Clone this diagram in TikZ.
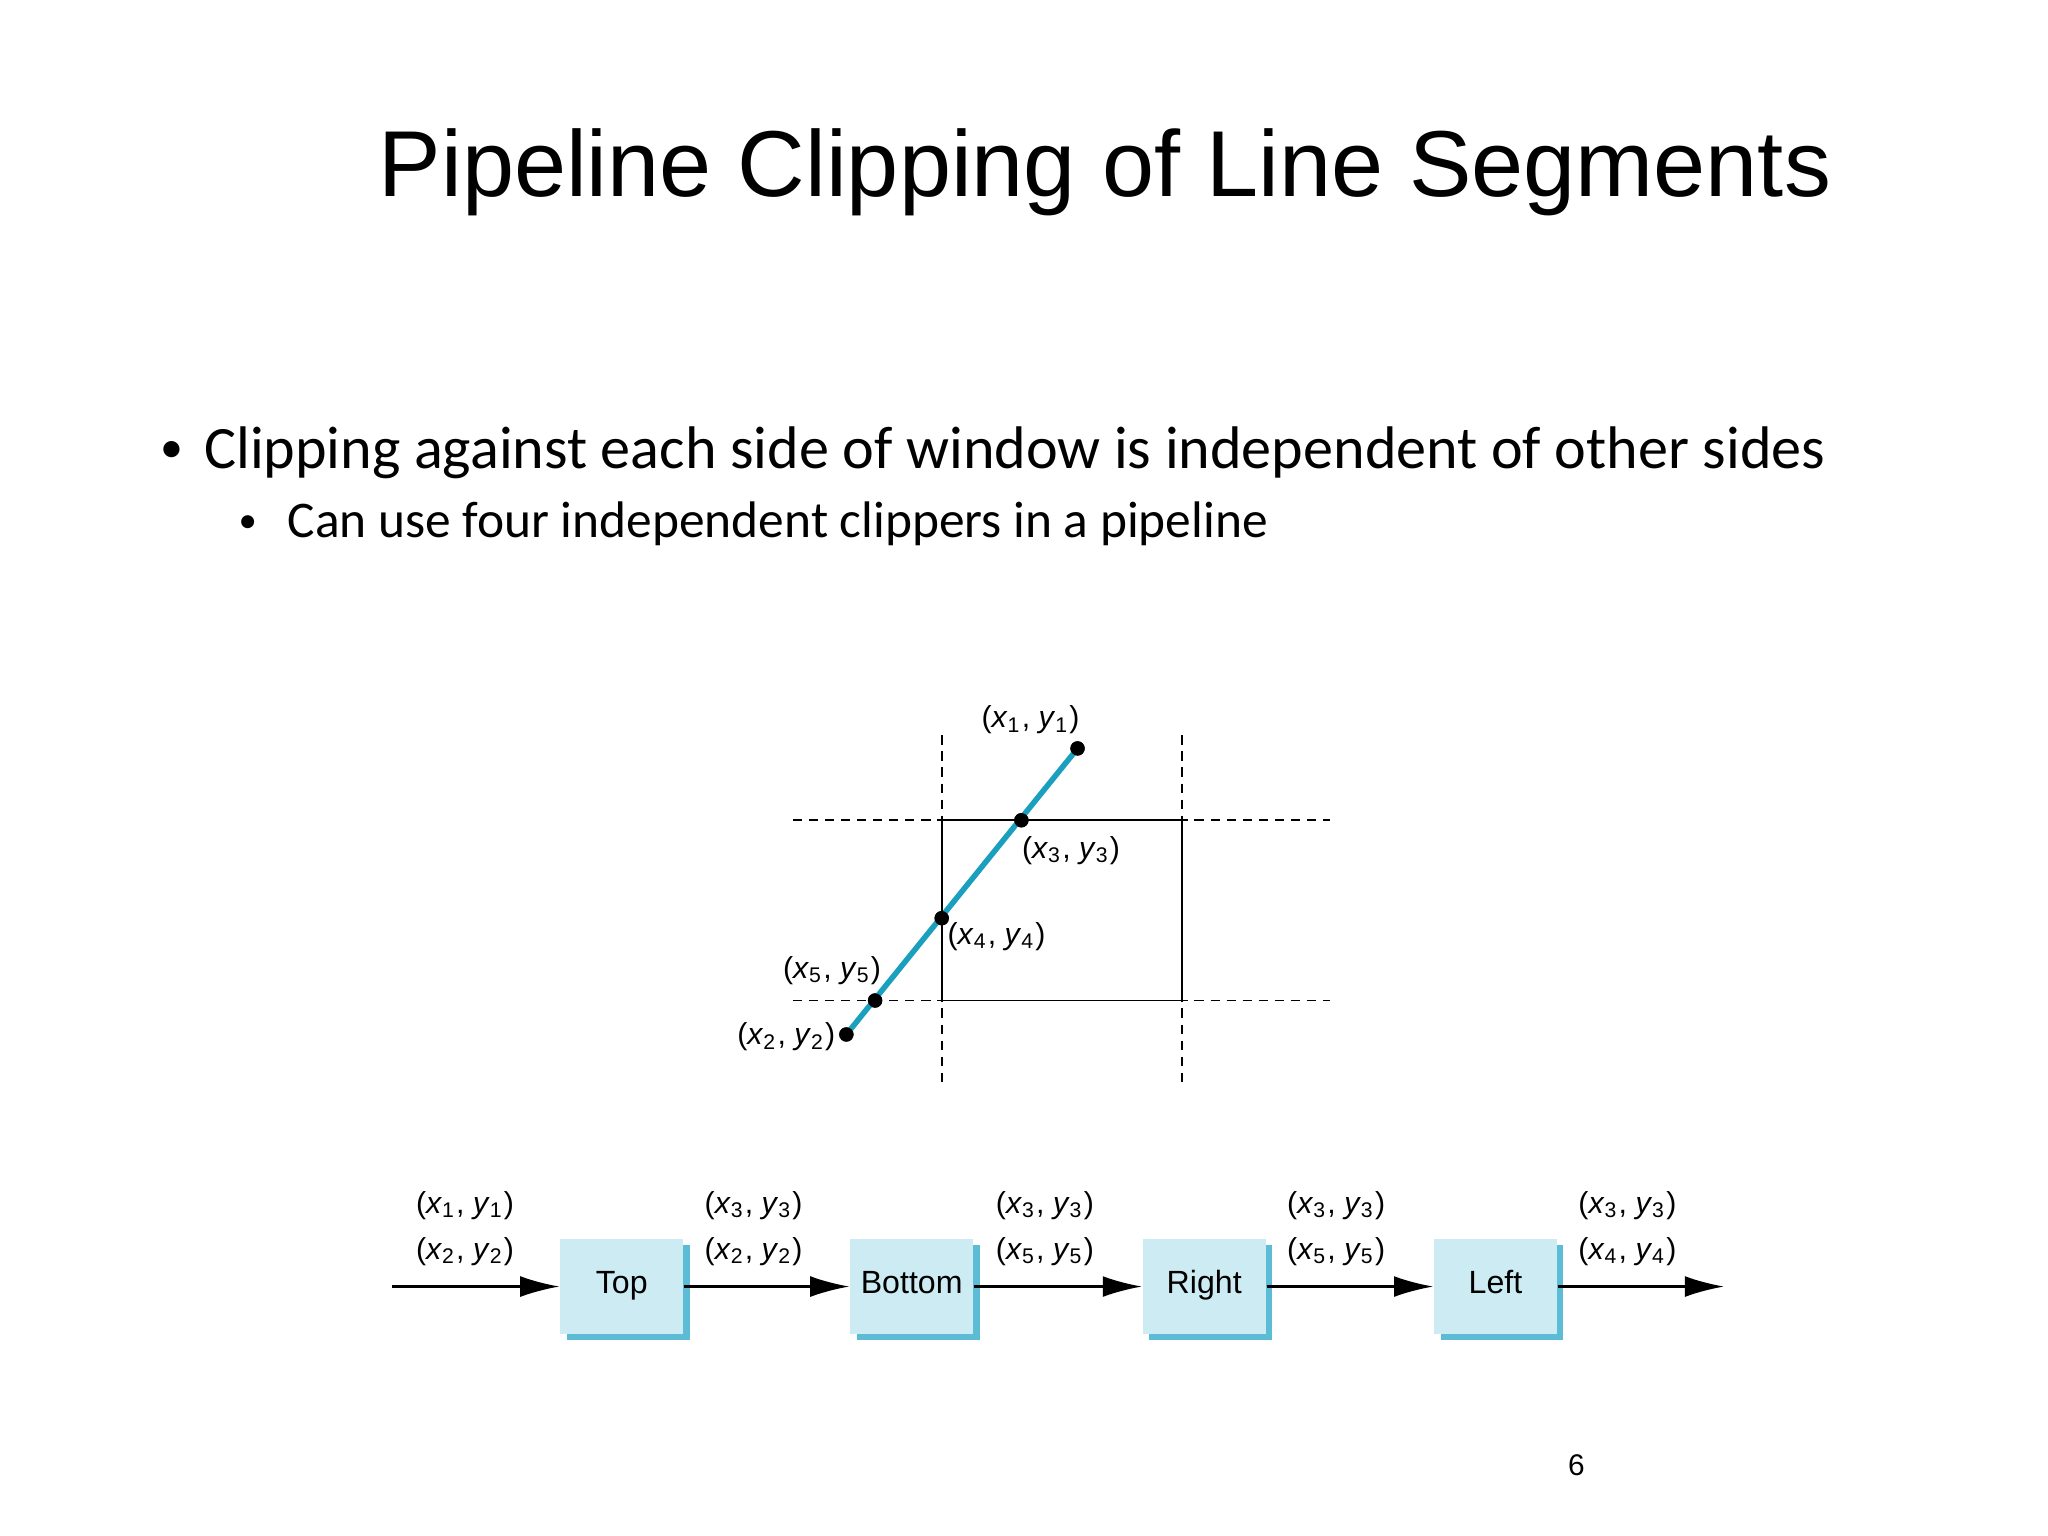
\documentclass[tikz,border=0pt]{standalone}
\usepackage{fontspec}
\setmainfont{Liberation Sans}
\newfontfamily\bodyf{Carlito}
\usetikzlibrary{arrows.meta}
\definecolor{boxfill}{HTML}{CDEBF2}
\definecolor{boxshadow}{HTML}{5CBCD6}
\definecolor{segc}{HTML}{1A9FBF}
\newcommand{\xyl}[1]{(\textit{x}\textsubscript{#1}, \textit{y}\textsubscript{#1})}
\tikzset{
  dlab/.style={font=\fontsize{6.6}{8}\selectfont, inner sep=0pt},
  dot/.style={circle, fill=black, inner sep=0pt, minimum size=1.1mm},
  stage/.style={fill=boxfill, minimum width=9.4mm, minimum height=7.3mm, inner sep=0pt, text height=1.6mm, text depth=0.5mm, font=\fontsize{7}{8}\selectfont},
  shad/.style={fill=boxshadow},
  parr/.style={-{Latex[length=3mm,width=1.6mm]}, line width=0.5pt},
  wdash/.style={dashed, line width=0.4pt, dash pattern=on 2pt off 1.5pt},
}
\begin{document}
\begin{tikzpicture}[x=0.1mm,y=-0.1mm]
\useasboundingbox (0,0) rectangle (1568,1176);
\fill[white] (0,0) rectangle (1568,1176);
\node (title) at (846,132) {\fontsize{20.4}{24}\selectfont Pipeline Clipping of Line Segments};
\node[anchor=west,inner sep=0pt] (b1) at (122,347) {\bodyf\fontsize{13.1}{15}\selectfont {\fontsize{10}{10}\selectfont\raisebox{0.3ex}{\textbullet}}\hspace{0.35em}Clipping against each side of window is independent of other sides};
\node[anchor=west,inner sep=0pt] (b2) at (182,401) {\bodyf\fontsize{11.2}{13}\selectfont {\fontsize{8}{8}\selectfont\raisebox{0.3ex}{\textbullet}}\hspace{0.6em}Can use four independent clippers in a pipeline};
\node (pg) at (1207,1122) {\fontsize{6.5}{8}\selectfont 6};
% window
\draw[wdash] (721,563) -- (721,832);
\draw[wdash] (905,563) -- (905,832);
\draw[wdash] (607,628) -- (1018,628);
\draw[wdash] (607,766) -- (1018,766);
\draw[line width=0.4pt] (721,628) rectangle (905,766);
\node[dot] (p1) at (825,573) {};
\node[dot] (p3) at (782,628) {};
\node[dot] (p4) at (721,703) {};
\node[dot] (p5) at (670,766) {};
\node[dot] (p2) at (648,792) {};
\draw[segc, line width=1.2pt] (p2.center) -- (p1.center);
\foreach \n in {p1,p3,p4,p5,p2} \node[dot] at (\n) {};
\node[dlab] (l1) at (789,551) {\xyl{1}};
\node[dlab] (l3) at (820,651) {\xyl{3}};
\node[dlab] (l4) at (763,717) {\xyl{4}};
\node[dlab] (l5) at (637,743) {\xyl{5}};
\node[dlab] (l2) at (602,794) {\xyl{2}};
% pipeline
\coordinate (in) at (300,985);
\coordinate (out) at (1320,985);
\foreach \nm/\x/\t in {top/476/Top, bot/698/Bottom, rig/922/Right, lef/1145/Left}{
  \fill[shad] (\x-42,953) rectangle (\x+52,1026);
  \node[stage] (\nm) at (\x,985) {\t};
}
\draw[parr] (in) -- (top);
\draw[parr] (top) -- (bot);
\draw[parr] (bot) -- (rig);
\draw[parr] (rig) -- (lef);
\draw[parr] (lef) -- (out);
\foreach \x/\a/\b in {356/1/2, 577/3/2, 800/3/5, 1023/3/5, 1246/3/4}{
  \node[dlab] at (\x,923) {\xyl{\a}};
  \node[dlab] at (\x,958) {\xyl{\b}};
}
\end{tikzpicture}
\end{document}
